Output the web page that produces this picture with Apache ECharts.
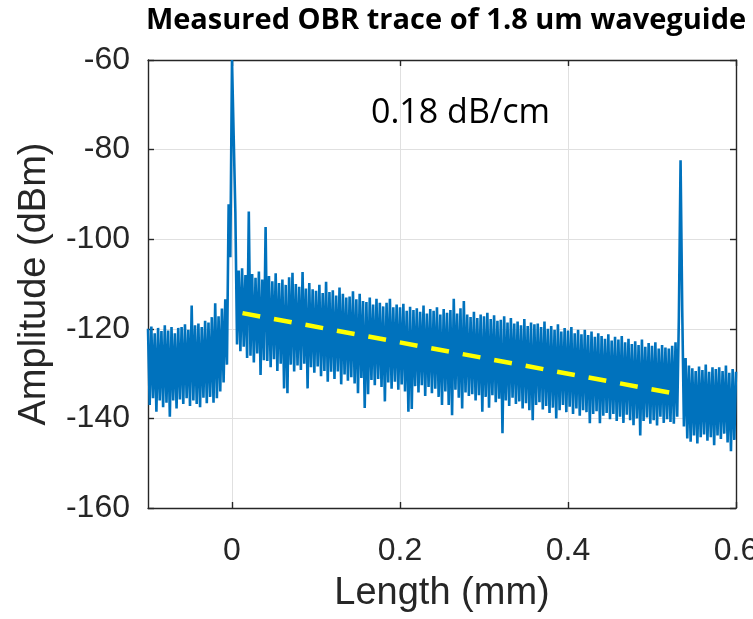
<!DOCTYPE html>
<html>
<head>
<meta charset="utf-8">
<script src="https://cdn.jsdelivr.net/npm/echarts@6/dist/echarts.min.js"></script>
<style>
  html, body { margin: 0; padding: 0; background: #ffffff; }
  #chart { width: 753px; height: 619px; }
</style>
</head>
<body>
<div id="chart"></div>
<script>
// OBR reflectometry trace, decimated: one sample every 2 um from -0.1 mm.
const lengthStartMm = -0.1;
const lengthStepMm = 0.002;
const amplitudeDbm = [
  -120.0, -137.0, -119.5, -135.5, -121.0, -138.5, -119.8, -136.0, -120.5, -137.5,
  -119.2, -136.5, -120.4, -139.6, -119.6, -136.0, -121.0, -137.8, -119.8, -135.8,
  -119.6, -136.8, -119.0, -135.5, -120.2, -137.2, -114.8, -136.0, -119.2, -136.8,
  -118.8, -137.5, -119.6, -135.4, -118.2, -136.6, -118.6, -135.2, -117.4, -136.5,
  -114.3, -135.5, -117.2, -134.0, -115.5, -132.0, -113.4, -128.0, -92.2, -104.0,
  -60.0, -77.0, -94.0, -123.5, -107.0, -125.0, -106.5, -124.0, -108.0, -126.5,
  -93.8, -126.0, -107.8, -127.5, -108.6, -125.5, -107.2, -130.3, -109.0, -127.0,
  -97.3, -127.2, -108.2, -128.6, -109.4, -126.8, -107.6, -129.4, -109.8, -127.8,
  -109.0, -133.3, -110.2, -134.4, -108.5, -128.0, -107.5, -129.5, -110.0, -128.2,
  -110.6, -129.2, -107.3, -127.8, -111.0, -133.3, -109.8, -128.6, -111.2, -129.8,
  -111.5, -128.4, -110.2, -130.6, -112.0, -129.4, -109.5, -131.8, -111.8, -129.6,
  -111.4, -131.2, -112.6, -129.5, -110.8, -132.4, -112.2, -130.2, -113.0, -131.6,
  -112.8, -130.8, -111.6, -132.2, -113.4, -134.4, -112.2, -131.0, -113.8, -137.7,
  -114.0, -134.6, -113.0, -131.4, -114.6, -132.6, -113.3, -131.2, -114.2, -133.0,
  -115.0, -136.2, -114.2, -132.0, -113.3, -133.4, -115.2, -131.8, -114.6, -133.6,
  -115.2, -132.4, -114.4, -134.0, -116.0, -138.5, -115.1, -137.9, -115.8, -132.8,
  -115.4, -134.2, -116.2, -132.6, -114.8, -135.0, -116.6, -133.0, -115.6, -134.4,
  -116.0, -133.4, -115.2, -135.2, -116.8, -137.0, -115.6, -134.0, -116.4, -137.0,
  -115.8, -139.3, -113.3, -133.6, -116.6, -135.4, -115.4, -137.8, -113.8, -134.2,
  -116.8, -135.0, -117.4, -134.6, -116.2, -136.0, -117.6, -134.8, -116.8, -138.5,
  -117.2, -135.2, -116.4, -137.6, -117.8, -134.8, -117.0, -136.4, -118.2, -135.6,
  -118.0, -143.3, -117.2, -136.0, -118.6, -137.2, -117.6, -135.4, -118.8, -136.8,
  -118.4, -136.2, -119.2, -137.8, -117.8, -136.6, -119.4, -138.2, -118.6, -140.4,
  -119.0, -137.0, -118.8, -136.4, -119.6, -138.0, -118.4, -137.2, -120.0, -138.8,
  -119.4, -137.6, -120.2, -140.0, -119.0, -138.2, -120.6, -137.0, -119.8, -138.6,
  -120.4, -137.4, -119.6, -139.0, -121.0, -137.8, -120.2, -139.4, -121.2, -138.2,
  -120.2, -138.6, -121.4, -141.1, -120.6, -139.0, -121.8, -138.4, -121.0, -141.1,
  -121.6, -139.4, -122.2, -138.8, -121.2, -140.2, -122.6, -139.0, -121.8, -140.6,
  -122.4, -139.6, -121.6, -141.0, -123.0, -139.2, -122.2, -140.4, -123.4, -141.5,
  -122.8, -140.0, -123.6, -143.8, -122.4, -140.6, -124.0, -139.8, -123.2, -141.2,
  -123.8, -140.4, -123.0, -141.6, -124.4, -139.6, -123.6, -141.0, -124.2, -140.2,
  -124.4, -140.8, -123.8, -141.2, -123.0, -139.6, -117.3, -82.4, -115.9, -141.8,
  -126.5, -144.5, -128.2, -145.2, -128.8, -143.8, -129.4, -145.6, -128.4, -144.2,
  -129.2, -143.6, -128.0, -145.0, -129.6, -144.2, -128.6, -146.0, -129.0, -143.8,
  -128.6, -144.6, -129.4, -143.4, -128.2, -145.4, -129.8, -147.3, -129.0, -144.8,
  -129.6
];

// Linear propagation-loss fit over the waveguide section
const fitLengthMm = [0.0125, 0.534];
const fitAmplitudeDbm = [-116.5, -134.7];

const xTicks = [0, 0.2, 0.4, 0.6];
const yTicks = [-160, -140, -120, -100, -80, -60];

const titleText = 'Measured OBR trace of 1.8 um waveguide';
const slopeText = '0.18 dB/cm';

const traceData = amplitudeDbm.map((v, i) => [lengthStartMm + i * lengthStepMm, v]);
const fitData = fitLengthMm.map((x, i) => [x, fitAmplitudeDbm[i]]);

const axisColor = '#262626';
const gridColor = '#e0e0e0';
const tickFont = { fontFamily: 'Liberation Sans, Arial, sans-serif', fontSize: 32, color: axisColor };

function xAxisDef(position, showLabel) {
  return {
    type: 'value', position: position,
    min: -0.1, max: 0.6,
    axisLine: { show: true, onZero: false, lineStyle: { color: axisColor, width: 1.4 } },
    axisTick: { show: true, inside: true, length: 6, customValues: xTicks, lineStyle: { color: axisColor, width: 1.4 } },
    axisLabel: Object.assign({ show: showLabel, customValues: xTicks, margin: 27,
      formatter: v => String(Math.round(v * 10) / 10) }, tickFont),
    splitLine: { show: showLabel, lineStyle: { color: gridColor, width: 1 } }
  };
}
function yAxisDef(position, showLabel) {
  return {
    type: 'value', position: position,
    min: yTicks[0], max: yTicks[yTicks.length - 1], interval: 20,
    axisLine: { show: true, onZero: false, lineStyle: { color: axisColor, width: 1.4 } },
    axisTick: { show: true, inside: true, length: 6, lineStyle: { color: axisColor, width: 1.4 } },
    axisLabel: Object.assign({ show: showLabel, margin: 18 }, tickFont),
    splitLine: { show: showLabel, lineStyle: { color: gridColor, width: 1 } }
  };
}

const xBottom = xAxisDef('bottom', true);
xBottom.name = 'Length (mm)';
xBottom.nameLocation = 'middle';
xBottom.nameGap = 67;
xBottom.nameTextStyle = { fontFamily: 'Liberation Sans, Arial, sans-serif', fontSize: 38, color: axisColor };

const yLeft = yAxisDef('left', true);
yLeft.name = 'Amplitude (dBm)';
yLeft.nameLocation = 'middle';
yLeft.nameGap = 94;
yLeft.nameTextStyle = { fontFamily: 'Liberation Sans, Arial, sans-serif', fontSize: 38, color: axisColor };

const chart = echarts.init(document.getElementById('chart'), null, { renderer: 'canvas' });
chart.setOption({
  animation: false,
  backgroundColor: '#ffffff',
  title: {
    text: titleText,
    left: 441, top: 1, textAlign: 'center',
    textStyle: { fontFamily: 'Open Sans, sans-serif', fontWeight: 'bold', fontSize: 29, color: '#000000' }
  },
  grid: { left: 148, right: 17, top: 60, bottom: 111, outerBoundsMode: 'none', containLabel: false },
  xAxis: [xBottom, xAxisDef('top', false)],
  yAxis: [yLeft, yAxisDef('right', false)],
  series: [
    {
      name: 'trace', type: 'line', data: traceData,
      showSymbol: false, symbol: 'none', sampling: null, clip: true,
      lineStyle: { color: '#0072BD', width: 2.6, join: 'bevel' },
      z: 2
    },
    {
      name: 'fit', type: 'line', data: fitData,
      showSymbol: false, symbol: 'none', clip: true,
      lineStyle: { color: '#FFFF00', width: 4.5, type: [18, 14], cap: 'butt' },
      z: 3
    }
  ],
  graphic: [{
    type: 'text', left: 371, top: 96, z: 10,
    style: { text: slopeText, fontFamily: 'Open Sans, sans-serif', fontSize: 34, fill: '#000000' }
  }]
});
</script>
</body>
</html>
